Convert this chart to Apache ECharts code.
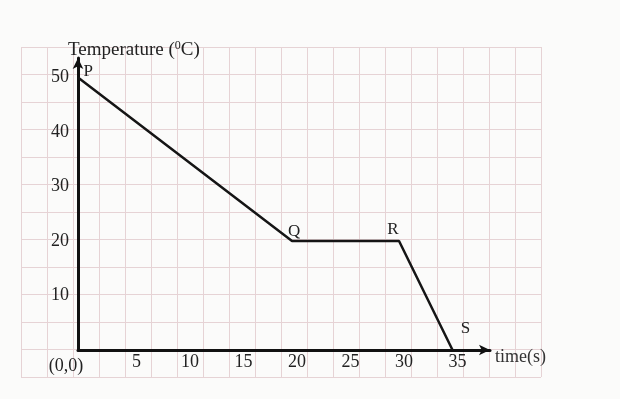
<!DOCTYPE html>
<html>
<head>
<meta charset="utf-8">
<script src="https://cdn.jsdelivr.net/npm/echarts@6/dist/echarts.min.js"></script>
<style>html,body{margin:0;padding:0;background:#fbfbfa;}#c{width:620px;height:399px;}</style>
</head>
<body>
<div id="c"></div>
<script>
const timeValues = [0, 20, 30, 35];
const tempValues = [50, 20, 20, 0];
const pointNames = ['P', 'Q', 'R', 'S'];
const xTickValues = [0, 5, 10, 15, 20, 25, 30, 35];
const yTickValues = [0, 10, 20, 30, 40, 50];

const labelPos = {
  P: { position: 'right', distance: 5, offset: [0, -6] },
  Q: { position: 'top', distance: 1, offset: [2, 0] },
  R: { position: 'top', distance: 3, offset: [-6, 0] },
  S: { position: 'top', distance: 12, offset: [13, 0] }
};

const seriesData = timeValues.map((t, i) => ({
  value: [t, tempValues[i]],
  name: pointNames[i],
  label: Object.assign({ show: true, formatter: '{b}' }, labelPos[pointNames[i]])
}));

const font = 'Liberation Serif';
const chart = echarts.init(document.getElementById('c'));
chart.setOption({
  backgroundColor: '#fbfbfa',
  animation: false,
  grid: [
    { left: 21, top: 47, width: 520, height: 330 },
    { left: 78, top: 58, width: 412, height: 292 }
  ],
  xAxis: [
    { gridIndex: 0, type: 'value', min: 0, max: 20, interval: 1,
      axisLine: { show: false }, axisTick: { show: false }, axisLabel: { show: false },
      splitLine: { show: true, lineStyle: { color: '#e6d3d5', width: 1 } } },
    { gridIndex: 1, type: 'value', min: 0, max: 38.5, interval: 5,
      name: 'time(s)', nameLocation: 'end', nameGap: 5,
      nameTextStyle: { fontFamily: font, fontSize: 18, color: '#333', verticalAlign: 'top', padding: [-2, 0, 0, 0] },
      axisLine: { show: true, lineStyle: { color: '#111', width: 3 }, symbol: ['none', 'arrow'], symbolSize: [8, 11] },
      axisTick: { show: false },
      splitLine: { show: false },
      axisLabel: { margin: 3,
        fontFamily: font, fontSize: 18, color: '#222',
        customValues: xTickValues,
        formatter: v => v === 0 ? '{o|(0,0)}' : '{n|' + v + '}',
        rich: { o: { fontFamily: font, fontSize: 18, color: '#222', padding: [4, 24, 0, 0] },
                n: { fontFamily: font, fontSize: 18, color: '#222', padding: [0, 0, 0, 10] } } } }
  ],
  yAxis: [
    { gridIndex: 0, type: 'value', min: 0, max: 12, interval: 1,
      axisLine: { show: false }, axisTick: { show: false }, axisLabel: { show: false },
      splitLine: { show: true, lineStyle: { color: '#e6d3d5', width: 1 } } },
    { gridIndex: 1, type: 'value', min: 0, max: 53.6, interval: 10,
      name: 'Temperature ({s|0}C)', nameLocation: 'end', nameGap: -2,
      nameTextStyle: { fontFamily: font, fontSize: 19, color: '#222', align: 'left', padding: [0, 0, 0, -10],
        rich: { s: { fontFamily: font, fontSize: 12, color: '#222', verticalAlign: 'top', padding: [0, 0, 8, 0] } } },
      axisLine: { show: true, lineStyle: { color: '#111', width: 3 }, symbol: ['none', 'arrow'], symbolSize: [8, 11] },
      axisTick: { show: false },
      splitLine: { show: false },
      axisLabel: { margin: 9, fontFamily: font, fontSize: 18, color: '#222',
        customValues: yTickValues,
        formatter: v => v === 0 ? '' : String(v) }
    }
  ],
  series: [{
    type: 'line',
    xAxisIndex: 1, yAxisIndex: 1,
    data: seriesData,
    showSymbol: true, symbol: 'circle', symbolSize: 1,
    itemStyle: { color: 'rgba(0,0,0,0)' },
    lineStyle: { color: '#151515', width: 2.5 },
    label: { fontFamily: font, fontSize: 17, color: '#222' },
    z: 5
  }]
});
</script>
</body>
</html>
